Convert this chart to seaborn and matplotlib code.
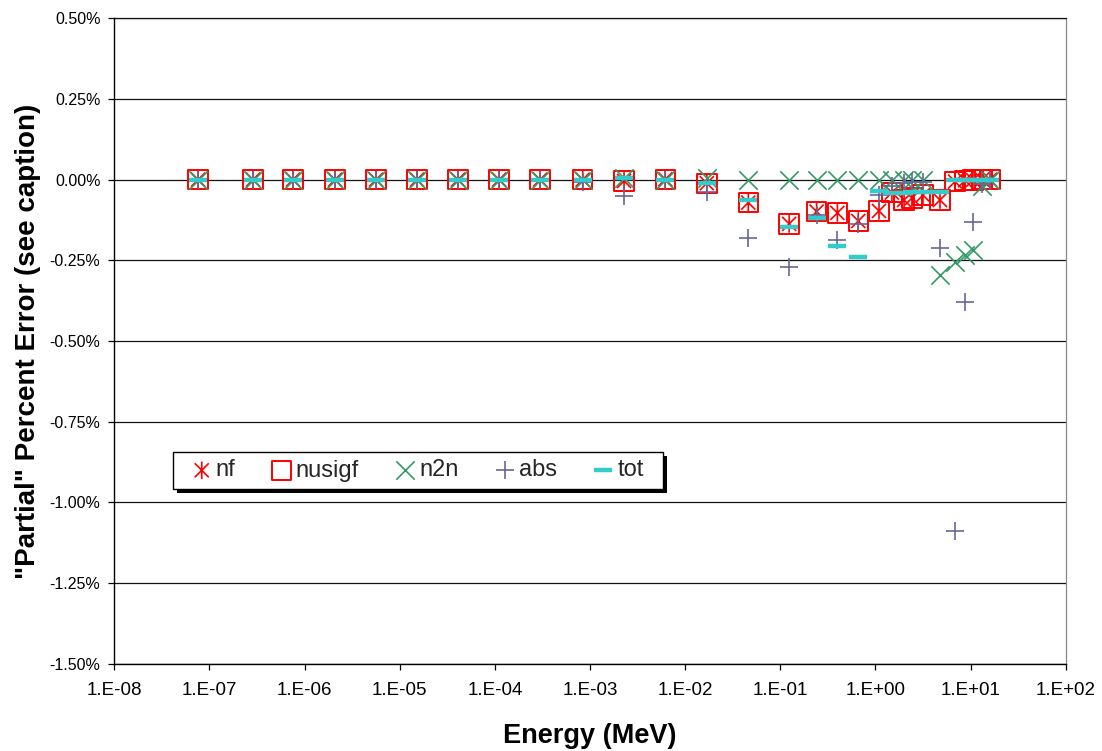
import numpy as np
import pandas as pd
import matplotlib
matplotlib.use("Agg")
import matplotlib.pyplot as plt
from matplotlib.path import Path
from matplotlib.patches import Rectangle
import seaborn as sns

# ---------------- data ----------------
energy = [7.6e-8, 2.87e-7, 7.55e-7, 2.09e-6, 5.64e-6, 1.52e-5, 4.10e-5, 1.11e-4,
          2.99e-4, 8.38e-4, 2.28e-3, 6.18e-3, 1.69e-2, 4.61e-2, 0.124, 0.241,
          0.398, 0.66, 1.09, 1.49, 2.00, 2.42, 3.16, 4.77, 6.87, 8.75, 10.6,
          13.2, 16.0]

nf = [0, 0, 0, 0, 0, 0, 0, 0, 0, 0,
      -0.004, 0.001, -0.011, -0.071, -0.137, -0.099, -0.103, -0.128,
      -0.097, -0.040, -0.063, -0.057, -0.048, -0.063, -0.006, -0.002,
      -0.001, 0.0, 0.0]
nusigf = [0, 0, 0, 0, 0, 0, 0, 0, 0, 0,
          -0.004, 0.001, -0.011, -0.071, -0.137, -0.099, -0.103, -0.128,
          -0.097, -0.040, -0.063, -0.057, -0.048, -0.063, -0.006, -0.002,
          -0.001, 0.0, 0.0]
n2n = [0, 0, 0, 0, 0, 0, 0, 0, 0, 0,
       0.005, 0.0, 0.005, 0.0, 0.0, 0.0, 0.0, 0.0,
       0.0, 0.0, 0.0, 0.0, 0.0, -0.295, -0.254, -0.233,
       -0.218, -0.020, 0.0]
abs_ = [0, 0, 0, 0, 0, 0, 0, 0, 0, -0.006,
        -0.050, -0.002, -0.037, -0.180, -0.270, -0.110, -0.187, -0.136,
        -0.047, -0.020, -0.011, -0.006, -0.006, -0.213, -1.090, -0.378,
        -0.130, -0.012, -0.003]
tot = [0, 0, 0, 0, 0, 0, 0, 0, 0, 0,
       0.006, 0.0, -0.011, -0.063, -0.148, -0.120, -0.207, -0.241,
       -0.034, -0.040, -0.040, -0.038, -0.037, -0.037, -0.002, -0.001,
       -0.001, 0.0, 0.0]

series_names = ["nf", "nusigf", "n2n", "abs", "tot"]
yticks = [-1.5, -1.25, -1.0, -0.75, -0.5, -0.25, 0.0, 0.25, 0.5]
ytick_labels = ["-1.50%", "-1.25%", "-1.00%", "-0.75%", "-0.50%", "-0.25%",
                "0.00%", "0.25%", "0.50%"]
xticks = [1e-8, 1e-7, 1e-6, 1e-5, 1e-4, 1e-3, 1e-2, 1e-1, 1e0, 1e1, 1e2]
xtick_labels = ["1.E-08", "1.E-07", "1.E-06", "1.E-05", "1.E-04", "1.E-03",
                "1.E-02", "1.E-01", "1.E+00", "1.E+01", "1.E+02"]

df = pd.DataFrame({"energy": energy, "nf": nf, "nusigf": nusigf,
                   "n2n": n2n, "abs": abs_, "tot": tot})

# ---------------- style ----------------
sns.set_theme(style="white")
plt.rcParams["font.family"] = ["Liberation Sans", "DejaVu Sans"]

W, H = 1102, 751
fig = plt.figure(figsize=(W / 100, H / 100), dpi=100)
L, R, T, B = 114.3, 1065.7, 18.3, 663.7
ax = fig.add_axes([L / W, 1 - B / H, (R - L) / W, (B - T) / H])

star = Path([(-1, -1), (1, 1), (-1, 1), (1, -1), (0, -1.25), (0, 1.25)],
            [Path.MOVETO, Path.LINETO, Path.MOVETO, Path.LINETO,
             Path.MOVETO, Path.LINETO])

red = "#FF0000"
green = "#339966"
purple = "#666699"
cyan = "#33CCCC"

sns.scatterplot(data=df, x="energy", y="nf", ax=ax, marker=star, s=160,
                facecolor="none", edgecolor=red, linewidth=1.2, label="nf",
                zorder=3)
sns.scatterplot(data=df, x="energy", y="nusigf", ax=ax, marker="s", s=195,
                facecolor="none", edgecolor=red, linewidth=1.4, label="nusigf",
                zorder=3)
sns.scatterplot(data=df, x="energy", y="n2n", ax=ax, marker="x", s=175,
                color=green, linewidth=1.2, label="n2n", zorder=3)
sns.scatterplot(data=df, x="energy", y="abs", ax=ax, marker="+", s=185,
                color=purple, linewidth=1.2, label="abs", zorder=3)
sns.scatterplot(data=df, x="energy", y="tot", ax=ax, marker="_", s=165,
                color=cyan, linewidth=3.2, label="tot", zorder=3)

ax.set_xscale("log")
ax.set_xlim(1e-8, 1e2)
ax.set_ylim(-1.5, 0.5)
ax.set_xticks(xticks)
ax.set_xticklabels(xtick_labels)
ax.xaxis.set_minor_locator(matplotlib.ticker.NullLocator())
ax.set_yticks(yticks)
ax.set_yticklabels(ytick_labels)

ax.yaxis.grid(True, color="#111111", linewidth=0.9)
ax.xaxis.grid(False)
ax.set_axisbelow(True)

for side in ["left", "bottom"]:
    ax.spines[side].set_color("black")
    ax.spines[side].set_linewidth(1.0)
ax.spines["top"].set_color("#111111")
ax.spines["top"].set_linewidth(0.9)
ax.spines["right"].set_color("#888888")
ax.spines["right"].set_linewidth(0.9)

ax.tick_params(axis="y", direction="out", length=4, width=0.9, color="black",
               labelsize=11.5, pad=6, left=True, labelcolor="black")
ax.tick_params(axis="x", direction="out", length=4.5, width=0.9, color="black",
               labelsize=13.5, pad=9, bottom=True, labelcolor="black")

ax.set_xlabel("Energy (MeV)", fontsize=19.5, fontweight="bold", labelpad=17,
              color="black")
ax.set_ylabel("\"Partial\" Percent Error (see caption)", fontsize=20,
              fontweight="bold", labelpad=6, color="black")

# ---------------- legend ----------------
lx0, ly0, lx1, ly1 = 173.3, 451.7, 662.7, 489.3
ax.add_patch(Rectangle(((lx0 + 4) / W, 1 - (ly1 + 4) / H), (lx1 - lx0) / W,
                       (ly1 - ly0) / H, transform=fig.transFigure,
                       facecolor="black", edgecolor="none", zorder=6,
                       clip_on=False))
ax.add_patch(Rectangle((lx0 / W, 1 - ly1 / H), (lx1 - lx0) / W,
                       (ly1 - ly0) / H, transform=fig.transFigure,
                       facecolor="white", edgecolor="black", linewidth=1.0,
                       zorder=7, clip_on=False))
handles, labels = ax.get_legend_handles_labels()
leg = ax.legend(handles, labels, ncol=5, loc="center left",
                bbox_to_anchor=(193.5 / W, 1 - 470.5 / H),
                bbox_transform=fig.transFigure, frameon=False,
                fontsize=17, handlelength=0.7, handletextpad=0.25,
                columnspacing=1.6, borderpad=0, borderaxespad=0,
                scatterpoints=1)
leg.set_zorder(8)

fig.savefig("out.png", dpi=100)
